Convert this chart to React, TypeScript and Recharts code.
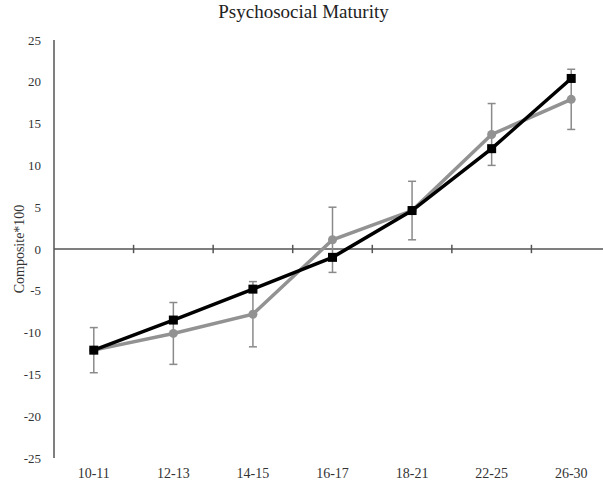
import { LineChart, Line, XAxis, YAxis, ReferenceLine, ErrorBar } from "recharts"

const ageGroups = ["10-11", "12-13", "14-15", "16-17", "18-21", "22-25", "26-30"]
const blackSeries = [-12.1, -8.5, -4.8, -1.0, 4.6, 12.0, 20.4]
const greySeries = [-12.1, -10.1, -7.8, 1.1, 4.6, 13.7, 17.9]
const greyError = [2.7, 3.7, 3.9, 3.9, 3.5, 3.7, 3.6]
const yTicks = [-25, -20, -15, -10, -5, 0, 5, 10, 15, 20, 25]

const groupIndex = ageGroups.map((_, i) => i)
const boundaries = groupIndex.slice(1).map((i) => i - 0.5)

const data = ageGroups.map((name, i) => ({
  idx: i,
  name,
  black: blackSeries[i],
  grey: greySeries[i],
  err: greyError[i],
}))

const font = "'Liberation Serif', 'Times New Roman', serif"
const axisColor = "#555"

function SquareDot(props: any) {
  const { cx, cy } = props
  if (cx == null || cy == null) return null
  return <rect x={cx - 4.5} y={cy - 4.5} width={9} height={9} fill="#000" />
}

function YLabel(props: any) {
  const vb = props.viewBox || {}
  const x = (vb.x ?? 0) + 19
  const y = (vb.y ?? 0) + (vb.height ?? 0) / 2
  return (
    <text
      x={x}
      y={y}
      transform={`rotate(-90, ${x}, ${y})`}
      textAnchor="middle"
      dominantBaseline="central"
      fontFamily={font}
      fontSize={14}
      fill="#333"
    >
      Composite*100
    </text>
  )
}

export default function App() {
  return (
    <div
      style={{
        position: "absolute",
        left: 0,
        top: 0,
        width: 603,
        height: 482,
        overflow: "hidden",
        background: "#fff",
        fontFamily: font,
      }}
    >
      <div
        style={{
          position: "absolute",
          top: 1,
          left: 2,
          width: 603,
          textAlign: "center",
          fontSize: 19,
          color: "#222",
        }}
      >
        Psychosocial Maturity
      </div>
      <LineChart
        width={620}
        height={482}
        data={data}
        margin={{ top: 40, right: 9, bottom: 0, left: 0 }}
      >
        <XAxis
          dataKey="idx"
          type="number"
          domain={[-0.5, ageGroups.length - 0.5]}
          ticks={groupIndex}
          tickFormatter={(v: number) => ageGroups[v] ?? ""}
          axisLine={false}
          tickLine={false}
          tickSize={0}
          tickMargin={10}
          height={24}
          interval={0}
          tick={{ fill: "#333", fontSize: 14, fontFamily: font }}
        />
        <YAxis
          domain={[-25, 25]}
          ticks={yTicks}
          width={54}
          interval={0}
          axisLine={{ stroke: axisColor, strokeWidth: 1.5 }}
          tickLine={false}
          tickSize={0}
          tickMargin={13}
          tick={{ fill: "#333", fontSize: 13, fontFamily: font }}
          label={<YLabel />}
        />
        <ReferenceLine y={0} stroke={axisColor} strokeWidth={1.5} />
        {boundaries.map((b) => (
          <ReferenceLine
            key={b}
            segment={[
              { x: b, y: 0.5 },
              { x: b, y: -0.5 },
            ]}
            stroke={axisColor}
            strokeWidth={1.5}
          />
        ))}
        <Line
          dataKey="grey"
          stroke="#929292"
          strokeWidth={3.5}
          dot={{ r: 4.5, fill: "#929292", stroke: "#929292", strokeWidth: 0 }}
          isAnimationActive={false}
        >
          <ErrorBar dataKey="err" direction="y" width={4} stroke="#8a8a8a" strokeWidth={1.5} />
        </Line>
        <Line
          dataKey="black"
          stroke="#000"
          strokeWidth={3.5}
          dot={<SquareDot />}
          isAnimationActive={false}
        />
      </LineChart>
    </div>
  )
}
